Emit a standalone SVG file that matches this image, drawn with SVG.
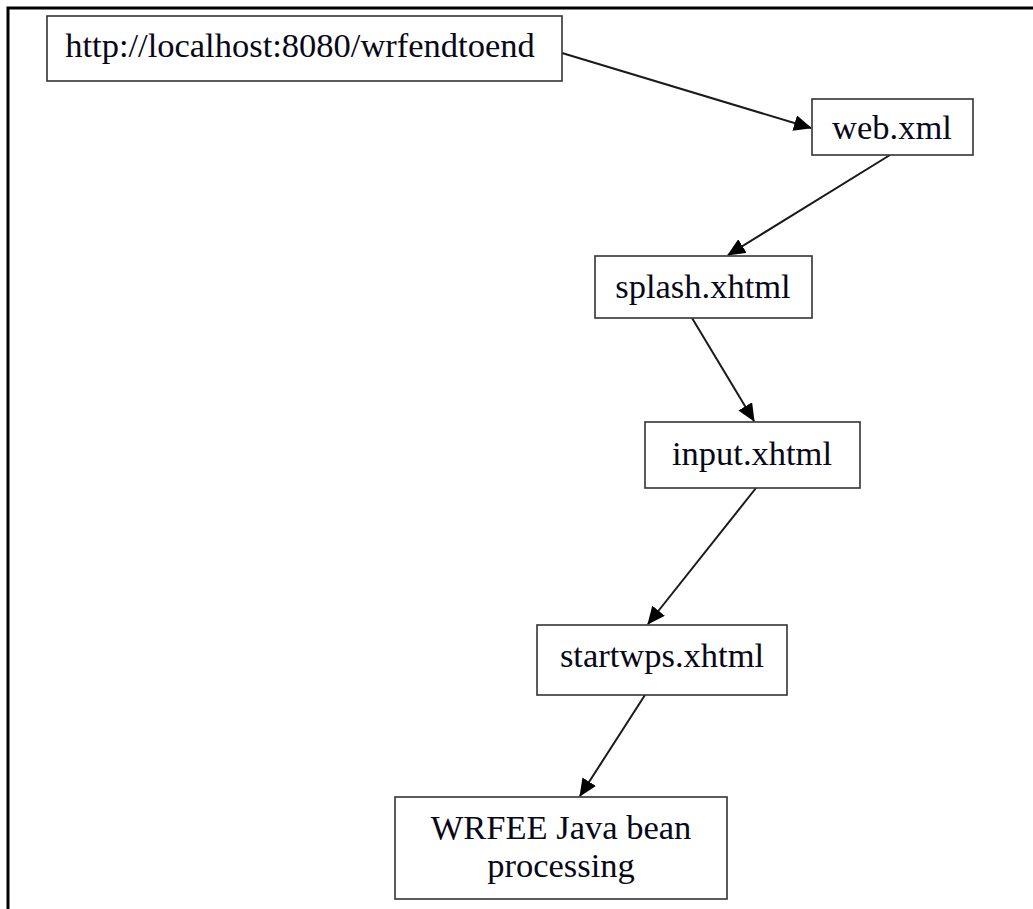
<svg xmlns="http://www.w3.org/2000/svg" width="1033" height="909" viewBox="0 0 1033 909">
  <style>
    .box { fill: #ffffff; stroke: #333333; stroke-width: 1.6; }
    .lbl { font-family: "Liberation Serif", "Times New Roman", serif; font-size: 34.5px; fill: #080818; text-anchor: middle; }
    .edge { stroke: #1a1a1a; stroke-width: 2; fill: none; marker-end: url(#arrow); }
  </style>
  <defs>
    <marker id="arrow" markerUnits="userSpaceOnUse" markerWidth="18" markerHeight="16" viewBox="0 0 18 16" refX="17" refY="8" orient="auto">
      <path d="M0,0 L18,8 L0,16 Z" fill="#000000"/>
    </marker>
  </defs>
  <rect x="0" y="0" width="1033" height="909" fill="#ffffff"/>
  <path d="M8,909 L8,8 L1033,8" fill="none" stroke="#000000" stroke-width="3"/>

  <g id="connectors">
    <line class="edge" x1="562" y1="53" x2="811" y2="128"/>
    <line class="edge" x1="890" y1="155" x2="728" y2="255"/>
    <line class="edge" x1="692" y1="318" x2="754" y2="421"/>
    <line class="edge" x1="756" y1="488" x2="648" y2="624"/>
    <line class="edge" x1="645" y1="695" x2="580" y2="796"/>
  </g>

  <g id="node-url">
    <rect class="box" x="47" y="16" width="515" height="65"/>
    <text class="lbl" x="300" y="57">http://localhost:8080/wrfendtoend</text>
  </g>
  <g id="node-web">
    <rect class="box" x="812" y="99" width="161" height="56"/>
    <text class="lbl" x="892" y="139">web.xml</text>
  </g>
  <g id="node-splash">
    <rect class="box" x="595" y="256" width="217" height="62"/>
    <text class="lbl" x="703" y="298">splash.xhtml</text>
  </g>
  <g id="node-input">
    <rect class="box" x="645" y="422" width="215" height="66"/>
    <text class="lbl" x="752" y="465">input.xhtml</text>
  </g>
  <g id="node-startwps">
    <rect class="box" x="537" y="625" width="250" height="70"/>
    <text class="lbl" x="662" y="667">startwps.xhtml</text>
  </g>
  <g id="node-wrfee">
    <rect class="box" x="395" y="797" width="332" height="102"/>
    <text class="lbl" x="561" y="839">WRFEE Java bean</text>
    <text class="lbl" x="561" y="877">processing</text>
  </g>
</svg>
